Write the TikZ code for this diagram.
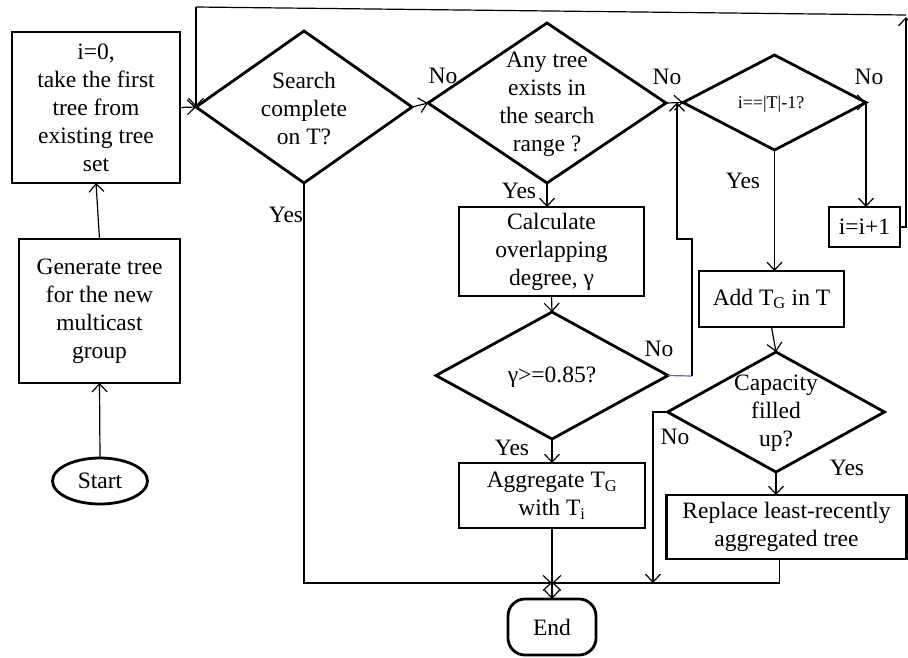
\documentclass[tikz,border=0pt]{standalone}
\usepackage{fontspec}
\setmainfont{Liberation Serif}
\usetikzlibrary{shapes.geometric,arrows.meta,calc}
\definecolor{linkblue}{RGB}{68,114,196}
\begin{document}
\begin{tikzpicture}[x=1pt,y=-1pt,
  box/.style={draw,line width=2.8pt,rectangle,inner sep=0pt,outer sep=0pt,
    align=center,font=\fontsize{23.5}{28}\selectfont},
  dia/.style={draw,line width=2.8pt,diamond,inner sep=0pt,outer sep=0pt},
  txt/.style={align=center,font=\fontsize{23.5}{28}\selectfont,inner sep=0pt},
  lbl/.style={font=\fontsize{23.5}{28}\selectfont,inner sep=0pt},
  conn/.style={line width=1.2pt},
  flow/.style={conn,-{Straight Barb[length=8pt,width=15pt,line width=1.2pt]}}]
\useasboundingbox (0,0) rectangle (908,657);

% process boxes
\node[box,minimum width=168pt,minimum height=151pt] (b1) at (96,107.5)
  {i=0,\\take the first\\tree from\\existing tree\\set};
\node[box,minimum width=161pt,minimum height=144pt] (b2) at (99.5,311)
  {Generate tree\\for the new\\multicast\\group};
\node[draw,ellipse,line width=2.8pt,minimum width=95pt,minimum height=46pt,
  inner sep=0pt,outer sep=0pt,font=\fontsize{23.5}{28}\selectfont] (start) at (100,481) {Start};

% decisions
\node[dia,minimum width=216pt,minimum height=152pt] (d1) at (304,107) {};
\node[txt] (d1t) at (304,109) {Search\\complete\\on T?};
\node[dia,minimum width=238pt,minimum height=160pt] (d2) at (547,103) {};
\node[txt] (d2t) at (547,104.5) {Any tree\\exists in\\the search\\range ?};
\node[dia,minimum width=183pt,minimum height=95pt] (d3) at (774.5,102.5) {};
\node[txt,font=\fontsize{18}{22}\selectfont] (d3t) at (771,104) {i==|T|-1?};
\node[dia,minimum width=232pt,minimum height=127pt] (d5) at (552,375.5) {};
\node[txt] (d5t) at (552,377) {γ>=0.85?};
\node[dia,minimum width=217pt,minimum height=120pt] (d4) at (776,412) {};
\node[txt] (d4t) at (776,413) {Capacity\\filled\\up?};

% right-hand and middle boxes
\node[box,minimum width=71pt,minimum height=40pt] (inc) at (864.5,227) {i=i+1};
\node[box,minimum width=185pt,minimum height=89pt] (calc) at (551.5,251.5)
  {Calculate\\overlapping\\degree, γ};
\node[box,minimum width=186pt,minimum height=65pt] (agg) at (552,495.5)
  {Aggregate T\textsubscript{G}\\with T\textsubscript{i}};
\node[box,minimum width=145pt,minimum height=56pt] (add) at (771.5,299)
  {Add T\textsubscript{G} in T};
\node[box,minimum width=240pt,minimum height=64pt] (repl) at (786.5,527)
  {Replace least-recently\\aggregated tree};
\node[draw,rectangle,rounded corners=17pt,line width=2.8pt,minimum width=88pt,
  minimum height=56pt,inner sep=0pt,outer sep=0pt,
  font=\fontsize{23.5}{28}\selectfont] (end) at (552,627) {End};

% branch labels
\node[lbl] (n1) at (443,76) {No};
\node[lbl] (n2) at (667,77) {No};
\node[lbl] (n3) at (869,77) {No};
\node[lbl] (n5) at (659,349) {No};
\node[lbl] (n4) at (675,437) {No};
\node[lbl] (y1) at (286,215) {Yes};
\node[lbl] (y2) at (519,191) {Yes};
\node[lbl] (y3) at (743,181) {Yes};
\node[lbl] (y5) at (512,448) {Yes};
\node[lbl] (y4) at (847,468) {Yes};

% routing points
\coordinate (join) at (552,583);
\coordinate (tr) at (906,15);
\coordinate (tl) at (196,7);
\coordinate (d5out) at (692,376);
\coordinate (d5up) at (677,239);
\coordinate (d4out) at (653,412);

% connectors
\draw[flow] (start.north) -- (b2.south);
\draw[flow] (b2.north) -- (b1.south);
\draw[flow] (b1.east) -- (d1.west);
\draw[flow] (d1.east) -- (d2.west);
\draw[flow] (d2.east) -- (d3.west);
\draw[flow] ($(d3.east)+(-0.1,0)$) -- (d3.east);
\draw[flow] (d3.east) -- (d3.east |- inc.north);
\draw[flow] (inc.east) -- (inc.east -| tr) -- ($(tr)+(0,2)$);
\draw[conn] (tr) -- (tl);
\draw[flow] (tl) -- (d1.west);
\draw[flow] (d1.south) |- (join);
\draw[flow] (d2.south) -- (d2.south |- calc.north);
\draw[flow] (calc.south) -- (d5.north);
\draw[conn,linkblue] (d5.east) -- (d5out);
\draw[flow] (d5out) |- (d5up) -- (d5up |- d3.west);
\draw[flow] (d5.south) -- (agg.north);
\draw[flow] (agg.south) -- (end.north);
\draw[flow] (d3.south) -- (d3.south |- add.north);
\draw[flow] (add.south) -- (d4.north);
\draw[flow] (d4.west) -- (d4out) -- (d4out |- join);
\draw[flow] (d4.south) -- (d4.south |- repl.north);
\draw[flow] ([xshift=-7pt]repl.south) |- (join);
\end{tikzpicture}
\end{document}
